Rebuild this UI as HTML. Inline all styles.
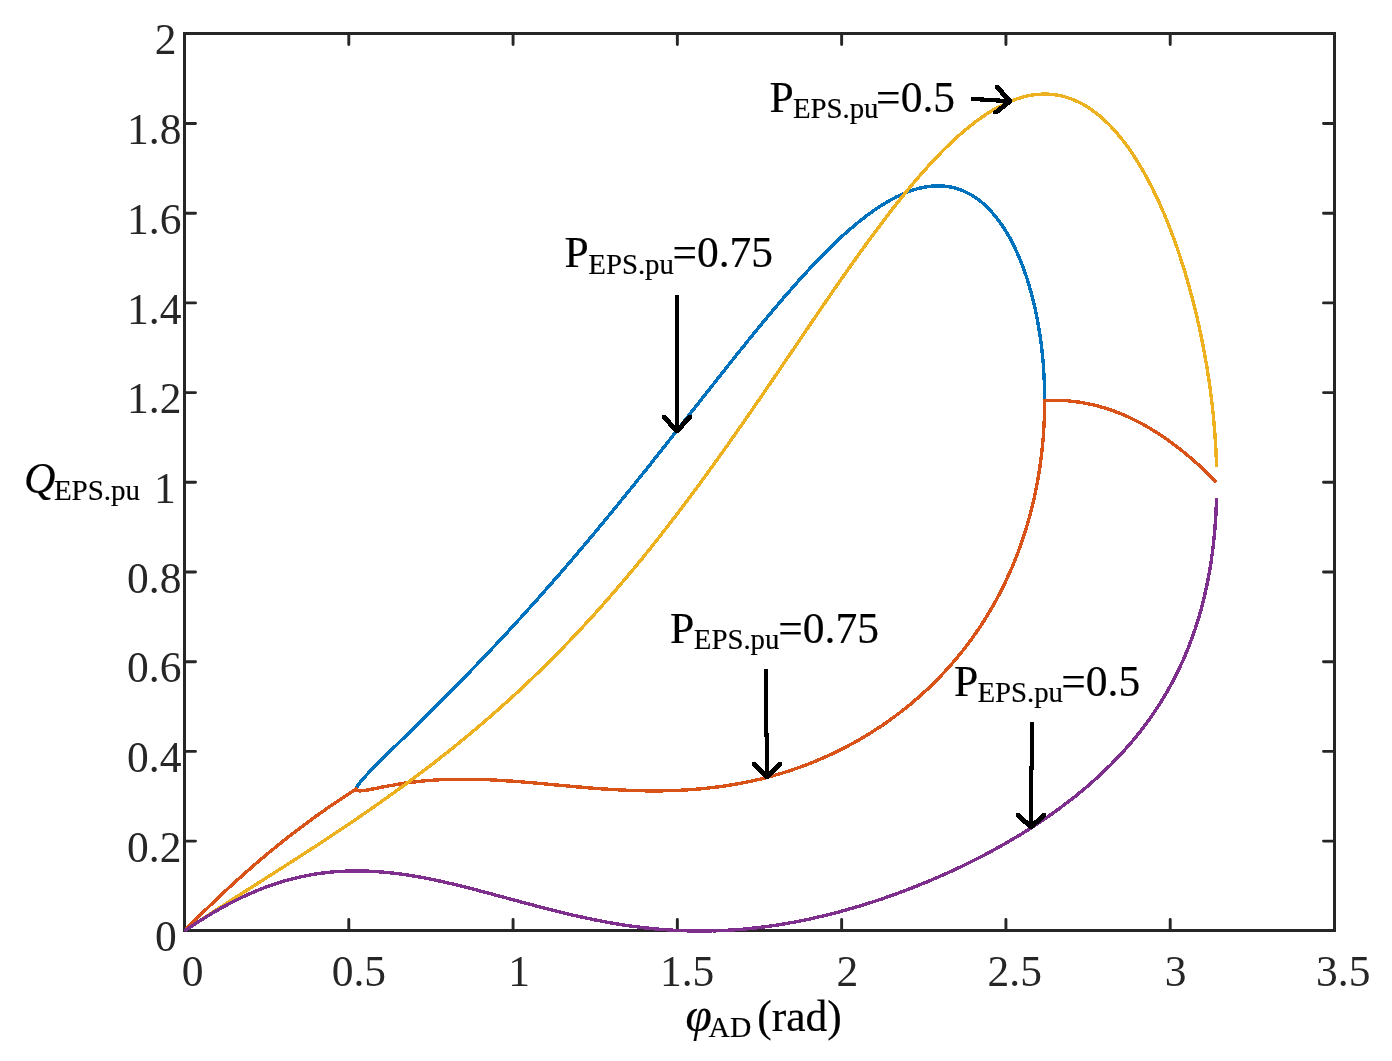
<!DOCTYPE html>
<html lang="en"><head><meta charset="utf-8"><title>Q_EPS.pu versus phi_AD</title>
<style>
html,body{margin:0;padding:0;background:#fff;}
body{width:1392px;height:1061px;overflow:hidden;}
svg{display:block;font-family:"Liberation Serif","Times New Roman",serif;}
.tk{font-size:43.5px;fill:#262626;}
.an{font-size:43.5px;fill:#000;stroke:#000;stroke-width:0.2px;}
.sub{font-size:28.8px;}
.cv{fill:none;stroke-width:3.4;stroke-linejoin:round;stroke-linecap:butt;shape-rendering:crispEdges;}
.ar{fill:#000;stroke:none;shape-rendering:crispEdges;}
</style></head><body>
<svg width="1392" height="1061" viewBox="0 0 1392 1061">
<rect x="0" y="0" width="1392" height="1061" fill="#fff"/>
<rect x="184.5" y="33.5" width="1150.0" height="897.0" fill="none" stroke="#262626" stroke-width="3"/>
<path d="M348.79,930.5v-11.0M348.79,33.5v11.0M513.07,930.5v-11.0M513.07,33.5v11.0M677.36,930.5v-11.0M677.36,33.5v11.0M841.64,930.5v-11.0M841.64,33.5v11.0M1005.93,930.5v-11.0M1005.93,33.5v11.0M1170.21,930.5v-11.0M1170.21,33.5v11.0M184.5,841.10h11.0M1334.5,841.10h-11.0M184.5,751.40h11.0M1334.5,751.40h-11.0M184.5,661.70h11.0M1334.5,661.70h-11.0M184.5,572.00h11.0M1334.5,572.00h-11.0M184.5,482.30h11.0M1334.5,482.30h-11.0M184.5,392.60h11.0M1334.5,392.60h-11.0M184.5,302.90h11.0M1334.5,302.90h-11.0M184.5,213.20h11.0M1334.5,213.20h-11.0M184.5,123.50h11.0M1334.5,123.50h-11.0" fill="none" stroke="#262626" stroke-width="2.9" stroke-linecap="round"/>
<polyline class="cv" stroke="#0072BD" points="356.3,789.0 356.7,788.0 357.0,787.1 357.3,786.4 357.7,785.8 358.0,785.3 358.3,784.7 358.6,784.3 359.0,783.8 359.3,783.4 359.6,782.9 360.6,781.7 363.2,778.6 365.9,775.7 368.5,772.9 371.1,770.1 373.8,767.4 376.4,764.8 379.0,762.2 381.6,759.5 384.3,756.9 386.9,754.4 389.5,751.8 392.2,749.2 394.8,746.6 397.4,744.1 400.0,741.5 402.7,738.9 405.3,736.4 407.9,733.8 410.6,731.2 413.2,728.6 415.8,726.1 418.4,723.5 421.1,720.9 423.7,718.3 426.3,715.7 429.0,713.1 431.6,710.5 434.2,707.9 436.8,705.3 439.5,702.7 442.1,700.0 444.7,697.4 447.4,694.7 450.0,692.1 452.6,689.4 455.2,686.8 457.9,684.1 460.5,681.4 463.1,678.7 465.8,676.0 468.4,673.3 471.0,670.6 473.6,667.9 476.3,665.2 478.9,662.4 481.5,659.7 484.2,656.9 486.8,654.2 489.4,651.4 492.0,648.6 494.7,645.8 497.3,643.1 499.9,640.2 502.6,637.4 505.2,634.6 507.8,631.8 510.4,628.9 513.1,626.1 515.7,623.2 518.3,620.3 521.0,617.5 523.6,614.6 526.2,611.7 528.8,608.7 531.5,605.8 534.1,602.9 536.7,600.0 539.4,597.0 542.0,594.0 544.6,591.1 547.2,588.1 549.9,585.1 552.5,582.1 555.1,579.1 557.8,576.1 560.4,573.1 563.0,570.0 565.6,567.0 568.3,563.9 570.9,560.9 573.5,557.8 576.2,554.7 578.8,551.6 581.4,548.5 584.0,545.4 586.7,542.3 589.3,539.1 591.9,536.0 594.6,532.9 597.2,529.7 599.8,526.5 602.4,523.4 605.1,520.2 607.7,517.0 610.3,513.8 613.0,510.6 615.6,507.4 618.2,504.2 620.8,500.9 623.5,497.7 626.1,494.4 628.7,491.2 631.4,487.9 634.0,484.7 636.6,481.4 639.2,478.1 641.9,474.8 644.5,471.6 647.1,468.3 649.8,465.0 652.4,461.7 655.0,458.3 657.6,455.0 660.3,451.7 662.9,448.4 665.5,445.1 668.2,441.7 670.8,438.4 673.4,435.1 676.0,431.7 678.7,428.4 681.3,425.0 683.9,421.7 686.6,418.3 689.2,415.0 691.8,411.6 694.4,408.3 697.1,404.9 699.7,401.6 702.3,398.2 705.0,394.9 707.6,391.6 710.2,388.2 712.8,384.9 715.5,381.5 718.1,378.2 720.7,374.9 723.4,371.5 726.0,368.2 728.6,364.9 731.2,361.6 733.9,358.3 736.5,355.0 739.1,351.7 741.8,348.5 744.4,345.2 747.0,341.9 749.6,338.7 752.3,335.4 754.9,332.2 757.5,329.0 760.2,325.8 762.8,322.6 765.4,319.4 768.0,316.3 770.7,313.1 773.3,310.0 775.9,306.9 778.6,303.8 781.2,300.7 783.8,297.6 786.4,294.6 789.1,291.6 791.7,288.6 794.3,285.6 797.0,282.6 799.6,279.7 802.2,276.8 804.8,273.9 807.5,271.1 810.1,268.2 812.7,265.4 815.4,262.7 818.0,259.9 820.6,257.2 823.2,254.5 825.9,251.9 828.5,249.3 831.1,246.7 833.8,244.1 836.4,241.6 839.0,239.2 841.6,236.7 844.3,234.3 846.9,232.0 849.5,229.7 852.2,227.4 854.8,225.2 857.4,223.0 860.0,220.9 862.7,218.8 865.3,216.8 867.9,214.8 870.6,212.9 873.2,211.0 875.8,209.2 878.4,207.4 881.1,205.7 883.7,204.0 886.3,202.5 889.0,200.9 891.6,199.5 894.2,198.1 896.8,196.7 899.5,195.5 902.1,194.3 904.7,193.1 907.4,192.1 910.0,191.1 912.6,190.2 915.2,189.4 917.9,188.6 920.5,188.0 923.1,187.4 925.8,186.9 928.4,186.5 931.0,186.2 933.6,186.0 936.3,185.9 938.9,185.8 941.5,185.9 944.2,186.1 946.8,186.4 949.4,186.8 952.0,187.3 954.7,188.0 957.3,188.7 959.9,189.6 962.6,190.6 965.2,191.8 967.8,193.1 970.4,194.5 973.1,196.0 975.7,197.8 978.3,199.7 981.0,201.7 983.6,203.9 986.2,206.4 988.8,209.0 991.5,211.8 994.1,214.8 996.7,218.0 999.4,221.5 1002.0,225.2 1004.6,229.2 1007.2,233.5 1009.9,238.1 1012.5,243.1 1015.1,248.4 1017.8,254.2 1020.4,260.4 1021.7,263.7 1022.0,264.5 1022.4,265.4 1022.7,266.3 1023.0,267.1 1023.3,268.0 1023.7,268.9 1024.0,269.8 1024.3,270.8 1024.7,271.7 1025.0,272.6 1025.3,273.6 1025.6,274.5 1026.0,275.5 1026.3,276.5 1026.6,277.5 1027.0,278.5 1027.3,279.5 1027.6,280.6 1027.9,281.6 1028.3,282.7 1028.6,283.7 1028.9,284.8 1029.3,285.9 1029.6,287.1 1029.9,288.2 1030.2,289.4 1030.6,290.5 1030.9,291.7 1031.2,292.9 1031.6,294.1 1031.9,295.4 1032.2,296.6 1032.5,297.9 1032.9,299.2 1033.2,300.6 1033.5,301.9 1033.9,303.3 1034.2,304.7 1034.5,306.1 1034.8,307.6 1035.2,309.0 1035.5,310.6 1035.8,312.1 1036.2,313.7 1036.5,315.3 1036.8,316.9 1037.1,318.6 1037.5,320.4 1037.8,322.1 1038.1,323.9 1038.5,325.8 1038.8,327.7 1039.1,329.7 1039.4,331.8 1039.8,333.9 1040.1,336.1 1040.4,338.4 1040.8,340.8 1041.1,343.3 1041.4,345.9 1041.7,348.6 1042.1,351.6 1042.4,354.7 1042.7,358.0 1043.1,361.7 1043.4,365.8 1043.7,370.4 1044.0,375.9 1044.4,383.1 1044.7,400.4"/>
<polyline class="cv" stroke="#D95319" points="184.5,931.0 187.1,928.3 189.8,925.6 192.4,923.0 195.0,920.4 197.6,917.7 200.3,915.1 202.9,912.5 205.5,909.9 208.2,907.4 210.8,904.8 213.4,902.3 216.0,899.8 218.7,897.3 221.3,894.8 223.9,892.3 226.6,889.9 229.2,887.4 231.8,885.0 234.4,882.6 237.1,880.2 239.7,877.9 242.3,875.5 245.0,873.2 247.6,870.9 250.2,868.6 252.8,866.3 255.5,864.0 258.1,861.7 260.7,859.5 263.4,857.3 266.0,855.1 268.6,852.9 271.2,850.7 273.9,848.6 276.5,846.4 279.1,844.3 281.8,842.2 284.4,840.1 287.0,838.0 289.6,836.0 292.3,834.0 294.9,831.9 297.5,829.9 300.2,827.9 302.8,826.0 305.4,824.0 308.0,822.1 310.7,820.1 313.3,818.2 315.9,816.3 318.6,814.4 321.2,812.6 323.8,810.7 326.4,808.9 329.1,807.0 331.7,805.2 334.3,803.4 337.0,801.7 339.6,799.9 342.2,798.1 344.8,796.4 347.5,794.7 350.1,793.0 352.7,791.3 355.4,789.6 356.0,789.2 356.3,789.0 356.7,789.5 357.0,790.0 357.3,790.3 357.7,790.5 358.0,790.6 358.3,790.7 358.6,790.7 359.0,790.8 359.3,790.8 359.6,790.8 360.6,790.8 363.2,790.6 365.9,790.3 368.5,789.8 371.1,789.3 373.8,788.8 376.4,788.3 379.0,787.8 381.6,787.2 384.3,786.7 386.9,786.2 389.5,785.7 392.2,785.3 394.8,784.8 397.4,784.4 400.0,783.9 402.7,783.5 405.3,783.1 407.9,782.8 410.6,782.4 413.2,782.1 415.8,781.8 418.4,781.5 421.1,781.2 423.7,780.9 426.3,780.7 429.0,780.5 431.6,780.3 434.2,780.1 436.8,779.9 439.5,779.8 442.1,779.6 444.7,779.5 447.4,779.4 450.0,779.3 452.6,779.3 455.2,779.2 457.9,779.2 460.5,779.2 463.1,779.2 465.8,779.2 468.4,779.2 471.0,779.2 473.6,779.3 476.3,779.3 478.9,779.4 481.5,779.5 484.2,779.6 486.8,779.7 489.4,779.8 492.0,779.9 494.7,780.0 497.3,780.2 499.9,780.3 502.6,780.5 505.2,780.7 507.8,780.9 510.4,781.0 513.1,781.2 515.7,781.4 518.3,781.6 521.0,781.8 523.6,782.0 526.2,782.3 528.8,782.5 531.5,782.7 534.1,782.9 536.7,783.2 539.4,783.4 542.0,783.6 544.6,783.9 547.2,784.1 549.9,784.4 552.5,784.6 555.1,784.9 557.8,785.1 560.4,785.3 563.0,785.6 565.6,785.8 568.3,786.1 570.9,786.3 573.5,786.5 576.2,786.8 578.8,787.0 581.4,787.2 584.0,787.4 586.7,787.7 589.3,787.9 591.9,788.1 594.6,788.3 597.2,788.5 599.8,788.7 602.4,788.9 605.1,789.0 607.7,789.2 610.3,789.4 613.0,789.5 615.6,789.7 618.2,789.8 620.8,790.0 623.5,790.1 626.1,790.2 628.7,790.3 631.4,790.4 634.0,790.5 636.6,790.6 639.2,790.7 641.9,790.7 644.5,790.8 647.1,790.8 649.8,790.8 652.4,790.8 655.0,790.8 657.6,790.8 660.3,790.8 662.9,790.8 665.5,790.7 668.2,790.7 670.8,790.6 673.4,790.5 676.0,790.4 678.7,790.3 681.3,790.2 683.9,790.1 686.6,789.9 689.2,789.7 691.8,789.6 694.4,789.4 697.1,789.1 699.7,788.9 702.3,788.7 705.0,788.4 707.6,788.1 710.2,787.8 712.8,787.5 715.5,787.2 718.1,786.9 720.7,786.5 723.4,786.2 726.0,785.8 728.6,785.4 731.2,784.9 733.9,784.5 736.5,784.0 739.1,783.6 741.8,783.1 744.4,782.6 747.0,782.0 749.6,781.5 752.3,780.9 754.9,780.3 757.5,779.7 760.2,779.1 762.8,778.4 765.4,777.8 768.0,777.1 770.7,776.4 773.3,775.7 775.9,774.9 778.6,774.2 781.2,773.4 783.8,772.6 786.4,771.7 789.1,770.9 791.7,770.0 794.3,769.1 797.0,768.2 799.6,767.3 802.2,766.3 804.8,765.4 807.5,764.4 810.1,763.3 812.7,762.3 815.4,761.2 818.0,760.1 820.6,759.0 823.2,757.9 825.9,756.7 828.5,755.5 831.1,754.3 833.8,753.1 836.4,751.8 839.0,750.5 841.6,749.2 844.3,747.9 846.9,746.5 849.5,745.1 852.2,743.7 854.8,742.3 857.4,740.8 860.0,739.3 862.7,737.7 865.3,736.2 867.9,734.6 870.6,733.0 873.2,731.3 875.8,729.6 878.4,727.9 881.1,726.2 883.7,724.4 886.3,722.6 889.0,720.7 891.6,718.8 894.2,716.9 896.8,714.9 899.5,712.9 902.1,710.9 904.7,708.8 907.4,706.7 910.0,704.6 912.6,702.4 915.2,700.1 917.9,697.9 920.5,695.5 923.1,693.2 925.8,690.7 928.4,688.3 931.0,685.8 933.6,683.2 936.3,680.6 938.9,677.9 941.5,675.1 944.2,672.4 946.8,669.5 949.4,666.6 952.0,663.6 954.7,660.5 957.3,657.4 959.9,654.2 962.6,650.9 965.2,647.6 967.8,644.1 970.4,640.6 973.1,636.9 975.7,633.2 978.3,629.4 981.0,625.4 983.6,621.4 986.2,617.2 988.8,612.9 991.5,608.4 994.1,603.8 996.7,599.1 999.4,594.1 1002.0,589.0 1004.6,583.6 1007.2,578.1 1009.9,572.2 1012.5,566.2 1015.1,559.7 1017.8,553.0 1020.4,545.8 1023.0,538.2 1023.7,536.2 1024.0,535.2 1024.3,534.2 1024.7,533.1 1025.0,532.1 1025.3,531.0 1025.6,530.0 1026.0,528.9 1026.3,527.8 1026.6,526.7 1027.0,525.6 1027.3,524.5 1027.6,523.4 1027.9,522.3 1028.3,521.1 1028.6,519.9 1028.9,518.8 1029.3,517.6 1029.6,516.4 1029.9,515.2 1030.2,513.9 1030.6,512.7 1030.9,511.4 1031.2,510.1 1031.6,508.8 1031.9,507.5 1032.2,506.2 1032.5,504.8 1032.9,503.4 1033.2,502.0 1033.5,500.6 1033.9,499.2 1034.2,497.7 1034.5,496.2 1034.8,494.7 1035.2,493.2 1035.5,491.6 1035.8,490.0 1036.2,488.3 1036.5,486.7 1036.8,485.0 1037.1,483.2 1037.5,481.4 1037.8,479.6 1038.1,477.7 1038.5,475.8 1038.8,473.8 1039.1,471.8 1039.4,469.7 1039.8,467.5 1040.1,465.3 1040.4,462.9 1040.8,460.5 1041.1,458.0 1041.4,455.3 1041.7,452.5 1042.1,449.5 1042.4,446.4 1042.7,443.0 1043.1,439.3 1043.4,435.2 1043.7,430.5 1044.0,425.0 1044.4,417.8 1044.7,400.4 1045.0,400.4 1046.7,400.3 1049.3,400.3 1051.9,400.2 1054.6,400.2 1057.2,400.3 1059.8,400.4 1062.4,400.5 1065.1,400.6 1067.7,400.8 1070.3,401.1 1073.0,401.4 1075.6,401.7 1078.2,402.0 1080.8,402.4 1083.5,402.9 1086.1,403.4 1088.7,403.9 1091.4,404.5 1094.0,405.1 1096.6,405.7 1099.2,406.4 1101.9,407.2 1104.5,407.9 1107.1,408.8 1109.8,409.6 1112.4,410.5 1115.0,411.5 1117.6,412.5 1120.3,413.5 1122.9,414.6 1125.5,415.7 1128.2,416.9 1130.8,418.1 1133.4,419.4 1136.0,420.7 1138.7,422.1 1141.3,423.4 1143.9,424.9 1146.6,426.4 1149.2,427.9 1151.8,429.5 1154.4,431.1 1157.1,432.8 1159.7,434.5 1162.3,436.2 1165.0,438.0 1167.6,439.9 1170.2,441.7 1172.8,443.7 1175.5,445.6 1178.1,447.7 1180.7,449.7 1183.4,451.8 1186.0,454.0 1188.6,456.2 1191.2,458.4 1193.9,460.7 1196.5,463.1 1199.1,465.4 1201.8,467.9 1204.4,470.3 1207.0,472.8 1209.6,475.4 1212.3,478.0 1214.9,480.6 1216.5,482.3"/>
<polyline class="cv" stroke="#EDB120" points="184.5,931.0 187.1,929.2 189.8,927.4 192.4,925.7 195.0,923.9 197.6,922.2 200.3,920.4 202.9,918.7 205.5,917.0 208.2,915.2 210.8,913.5 213.4,911.8 216.0,910.1 218.7,908.4 221.3,906.7 223.9,905.0 226.6,903.3 229.2,901.6 231.8,899.9 234.4,898.2 237.1,896.5 239.7,894.9 242.3,893.2 245.0,891.5 247.6,889.8 250.2,888.2 252.8,886.5 255.5,884.8 258.1,883.1 260.7,881.5 263.4,879.8 266.0,878.1 268.6,876.4 271.2,874.7 273.9,873.1 276.5,871.4 279.1,869.7 281.8,868.0 284.4,866.3 287.0,864.7 289.6,863.0 292.3,861.3 294.9,859.6 297.5,857.9 300.2,856.2 302.8,854.5 305.4,852.8 308.0,851.1 310.7,849.4 313.3,847.7 315.9,846.0 318.6,844.2 321.2,842.5 323.8,840.8 326.4,839.1 329.1,837.3 331.7,835.6 334.3,833.8 337.0,832.1 339.6,830.3 342.2,828.6 344.8,826.8 347.5,825.0 350.1,823.3 352.7,821.5 355.4,819.7 358.0,817.9 360.6,816.1 363.2,814.3 365.9,812.5 368.5,810.6 371.1,808.8 373.8,807.0 376.4,805.1 379.0,803.3 381.6,801.4 384.3,799.6 386.9,797.7 389.5,795.8 392.2,793.9 394.8,792.1 397.4,790.2 400.0,788.2 402.7,786.3 405.3,784.4 407.9,782.5 410.6,780.5 413.2,778.6 415.8,776.6 418.4,774.6 421.1,772.6 423.7,770.7 426.3,768.7 429.0,766.6 431.6,764.6 434.2,762.6 436.8,760.6 439.5,758.5 442.1,756.4 444.7,754.4 447.4,752.3 450.0,750.2 452.6,748.1 455.2,746.0 457.9,743.8 460.5,741.7 463.1,739.5 465.8,737.4 468.4,735.2 471.0,733.0 473.6,730.8 476.3,728.6 478.9,726.4 481.5,724.1 484.2,721.9 486.8,719.6 489.4,717.3 492.0,715.0 494.7,712.7 497.3,710.4 499.9,708.1 502.6,705.7 505.2,703.4 507.8,701.0 510.4,698.6 513.1,696.2 515.7,693.8 518.3,691.4 521.0,688.9 523.6,686.5 526.2,684.0 528.8,681.5 531.5,679.0 534.1,676.5 536.7,673.9 539.4,671.4 542.0,668.8 544.6,666.2 547.2,663.6 549.9,661.0 552.5,658.4 555.1,655.7 557.8,653.1 560.4,650.4 563.0,647.7 565.6,645.0 568.3,642.2 570.9,639.5 573.5,636.7 576.2,633.9 578.8,631.1 581.4,628.3 584.0,625.5 586.7,622.6 589.3,619.8 591.9,616.9 594.6,614.0 597.2,611.1 599.8,608.1 602.4,605.2 605.1,602.2 607.7,599.2 610.3,596.2 613.0,593.2 615.6,590.2 618.2,587.1 620.8,584.0 623.5,580.9 626.1,577.8 628.7,574.7 631.4,571.5 634.0,568.4 636.6,565.2 639.2,562.0 641.9,558.8 644.5,555.5 647.1,552.3 649.8,549.0 652.4,545.7 655.0,542.4 657.6,539.1 660.3,535.8 662.9,532.4 665.5,529.0 668.2,525.7 670.8,522.2 673.4,518.8 676.0,515.4 678.7,511.9 681.3,508.5 683.9,505.0 686.6,501.5 689.2,498.0 691.8,494.4 694.4,490.9 697.1,487.3 699.7,483.8 702.3,480.2 705.0,476.6 707.6,472.9 710.2,469.3 712.8,465.7 715.5,462.0 718.1,458.3 720.7,454.6 723.4,451.0 726.0,447.2 728.6,443.5 731.2,439.8 733.9,436.0 736.5,432.3 739.1,428.5 741.8,424.8 744.4,421.0 747.0,417.2 749.6,413.4 752.3,409.6 754.9,405.8 757.5,401.9 760.2,398.1 762.8,394.3 765.4,390.4 768.0,386.6 770.7,382.7 773.3,378.8 775.9,375.0 778.6,371.1 781.2,367.2 783.8,363.4 786.4,359.5 789.1,355.6 791.7,351.7 794.3,347.9 797.0,344.0 799.6,340.1 802.2,336.2 804.8,332.3 807.5,328.5 810.1,324.6 812.7,320.7 815.4,316.9 818.0,313.0 820.6,309.2 823.2,305.3 825.9,301.5 828.5,297.7 831.1,293.8 833.8,290.0 836.4,286.2 839.0,282.4 841.6,278.7 844.3,274.9 846.9,271.2 849.5,267.4 852.2,263.7 854.8,260.0 857.4,256.3 860.0,252.6 862.7,249.0 865.3,245.3 867.9,241.7 870.6,238.1 873.2,234.5 875.8,231.0 878.4,227.5 881.1,224.0 883.7,220.5 886.3,217.0 889.0,213.6 891.6,210.2 894.2,206.8 896.8,203.5 899.5,200.2 902.1,196.9 904.7,193.6 907.4,190.4 910.0,187.2 912.6,184.1 915.2,181.0 917.9,177.9 920.5,174.9 923.1,171.9 925.8,168.9 928.4,166.0 931.0,163.1 933.6,160.3 936.3,157.5 938.9,154.8 941.5,152.1 944.2,149.4 946.8,146.8 949.4,144.3 952.0,141.8 954.7,139.3 957.3,136.9 959.9,134.6 962.6,132.3 965.2,130.1 967.8,127.9 970.4,125.8 973.1,123.7 975.7,121.7 978.3,119.8 981.0,117.9 983.6,116.1 986.2,114.3 988.8,112.6 991.5,111.0 994.1,109.4 996.7,107.9 999.4,106.5 1002.0,105.2 1004.6,103.9 1007.2,102.7 1009.9,101.6 1012.5,100.5 1015.1,99.5 1017.8,98.6 1020.4,97.8 1023.0,97.1 1025.6,96.4 1028.3,95.8 1030.9,95.3 1033.5,94.9 1036.2,94.6 1038.8,94.3 1041.4,94.2 1044.0,94.1 1046.7,94.1 1049.3,94.2 1051.9,94.4 1054.6,94.7 1057.2,95.1 1059.8,95.6 1062.4,96.2 1065.1,96.9 1067.7,97.7 1070.3,98.6 1073.0,99.6 1075.6,100.7 1078.2,101.9 1080.8,103.2 1083.5,104.6 1086.1,106.2 1088.7,107.8 1091.4,109.6 1094.0,111.5 1096.6,113.5 1099.2,115.6 1101.9,117.9 1104.5,120.2 1107.1,122.7 1109.8,125.3 1112.4,128.1 1115.0,131.0 1117.6,134.0 1120.3,137.2 1122.9,140.5 1125.5,143.9 1128.2,147.5 1130.8,151.3 1133.4,155.2 1136.0,159.2 1138.7,163.5 1141.3,167.9 1143.9,172.4 1146.6,177.2 1149.2,182.1 1151.8,187.2 1154.4,192.5 1157.1,198.0 1159.7,203.8 1162.3,209.7 1165.0,215.9 1167.6,222.3 1170.2,229.0 1172.8,236.0 1175.5,243.2 1178.1,250.8 1180.7,258.7 1183.4,266.9 1186.0,275.6 1188.6,284.7 1191.2,294.3 1191.9,296.7 1192.2,298.0 1192.6,299.3 1192.9,300.5 1193.2,301.8 1193.5,303.1 1193.9,304.4 1194.2,305.7 1194.5,307.0 1194.9,308.4 1195.2,309.7 1195.5,311.1 1195.8,312.4 1196.2,313.8 1196.5,315.2 1196.8,316.6 1197.2,318.0 1197.5,319.4 1197.8,320.9 1198.1,322.3 1198.5,323.8 1198.8,325.2 1199.1,326.7 1199.5,328.2 1199.8,329.8 1200.1,331.3 1200.4,332.8 1200.8,334.4 1201.1,336.0 1201.4,337.6 1201.8,339.2 1202.1,340.8 1202.4,342.5 1202.7,344.1 1203.1,345.8 1203.4,347.5 1203.7,349.3 1204.1,351.0 1204.4,352.8 1204.7,354.6 1205.0,356.4 1205.4,358.2 1205.7,360.1 1206.0,362.0 1206.4,363.9 1206.7,365.9 1207.0,367.9 1207.3,369.9 1207.7,372.0 1208.0,374.1 1208.3,376.2 1208.7,378.4 1209.0,380.6 1209.3,382.8 1209.6,385.1 1210.0,387.5 1210.3,389.9 1210.6,392.4 1211.0,394.9 1211.3,397.5 1211.6,400.2 1211.9,403.0 1212.3,405.8 1212.6,408.8 1212.9,411.9 1213.3,415.1 1213.6,418.4 1213.9,421.9 1214.2,425.7 1214.6,429.6 1214.9,433.9 1215.2,438.5 1215.6,443.7 1215.9,449.6 1216.2,456.8 1216.5,466.9"/>
<polyline class="cv" stroke="#7E2F8E" points="184.5,931.0 187.1,929.2 189.8,927.4 192.4,925.7 195.0,924.0 197.6,922.3 200.3,920.6 202.9,918.9 205.5,917.3 208.2,915.7 210.8,914.1 213.4,912.5 216.0,911.0 218.7,909.5 221.3,908.0 223.9,906.5 226.6,905.1 229.2,903.7 231.8,902.3 234.4,901.0 237.1,899.7 239.7,898.4 242.3,897.1 245.0,895.9 247.6,894.7 250.2,893.5 252.8,892.4 255.5,891.3 258.1,890.2 260.7,889.1 263.4,888.1 266.0,887.1 268.6,886.1 271.2,885.2 273.9,884.3 276.5,883.4 279.1,882.6 281.8,881.8 284.4,881.0 287.0,880.3 289.6,879.6 292.3,878.9 294.9,878.2 297.5,877.6 300.2,877.0 302.8,876.4 305.4,875.9 308.0,875.4 310.7,874.9 313.3,874.4 315.9,874.0 318.6,873.6 321.2,873.2 323.8,872.9 326.4,872.6 329.1,872.3 331.7,872.0 334.3,871.8 337.0,871.6 339.6,871.4 342.2,871.3 344.8,871.2 347.5,871.1 350.1,871.0 352.7,870.9 355.4,870.9 358.0,870.9 360.6,870.9 363.2,871.0 365.9,871.1 368.5,871.2 371.1,871.3 373.8,871.4 376.4,871.6 379.0,871.8 381.6,872.0 384.3,872.2 386.9,872.4 389.5,872.7 392.2,873.0 394.8,873.3 397.4,873.6 400.0,874.0 402.7,874.3 405.3,874.7 407.9,875.1 410.6,875.5 413.2,875.9 415.8,876.4 418.4,876.8 421.1,877.3 423.7,877.8 426.3,878.3 429.0,878.8 431.6,879.3 434.2,879.9 436.8,880.4 439.5,881.0 442.1,881.6 444.7,882.2 447.4,882.8 450.0,883.4 452.6,884.0 455.2,884.6 457.9,885.2 460.5,885.9 463.1,886.5 465.8,887.2 468.4,887.9 471.0,888.5 473.6,889.2 476.3,889.9 478.9,890.6 481.5,891.3 484.2,892.0 486.8,892.7 489.4,893.4 492.0,894.1 494.7,894.8 497.3,895.5 499.9,896.2 502.6,896.9 505.2,897.6 507.8,898.4 510.4,899.1 513.1,899.8 515.7,900.5 518.3,901.2 521.0,901.9 523.6,902.6 526.2,903.3 528.8,904.0 531.5,904.7 534.1,905.4 536.7,906.1 539.4,906.8 542.0,907.5 544.6,908.2 547.2,908.9 549.9,909.5 552.5,910.2 555.1,910.9 557.8,911.5 560.4,912.2 563.0,912.8 565.6,913.4 568.3,914.1 570.9,914.7 573.5,915.3 576.2,915.9 578.8,916.5 581.4,917.0 584.0,917.6 586.7,918.2 589.3,918.7 591.9,919.3 594.6,919.8 597.2,920.3 599.8,920.8 602.4,921.3 605.1,921.8 607.7,922.3 610.3,922.8 613.0,923.2 615.6,923.7 618.2,924.1 620.8,924.5 623.5,925.0 626.1,925.3 628.7,925.7 631.4,926.1 634.0,926.5 636.6,926.8 639.2,927.1 641.9,927.5 644.5,927.8 647.1,928.1 649.8,928.3 652.4,928.6 655.0,928.9 657.6,929.1 660.3,929.3 662.9,929.5 665.5,929.7 668.2,929.9 670.8,930.1 673.4,930.2 676.0,930.4 678.7,930.5 681.3,930.6 683.9,930.7 686.6,930.8 689.2,930.9 691.8,930.9 694.4,931.0 697.1,931.0 699.7,931.0 702.3,931.0 705.0,931.0 707.6,930.9 710.2,930.9 712.8,930.8 715.5,930.8 718.1,930.7 720.7,930.6 723.4,930.5 726.0,930.3 728.6,930.2 731.2,930.0 733.9,929.9 736.5,929.7 739.1,929.5 741.8,929.3 744.4,929.0 747.0,928.8 749.6,928.5 752.3,928.2 754.9,928.0 757.5,927.7 760.2,927.4 762.8,927.0 765.4,926.7 768.0,926.3 770.7,926.0 773.3,925.6 775.9,925.2 778.6,924.8 781.2,924.4 783.8,923.9 786.4,923.5 789.1,923.0 791.7,922.6 794.3,922.1 797.0,921.6 799.6,921.1 802.2,920.5 804.8,920.0 807.5,919.5 810.1,918.9 812.7,918.3 815.4,917.7 818.0,917.1 820.6,916.5 823.2,915.9 825.9,915.3 828.5,914.6 831.1,914.0 833.8,913.3 836.4,912.6 839.0,911.9 841.6,911.2 844.3,910.5 846.9,909.7 849.5,909.0 852.2,908.2 854.8,907.5 857.4,906.7 860.0,905.9 862.7,905.1 865.3,904.3 867.9,903.5 870.6,902.6 873.2,901.8 875.8,900.9 878.4,900.0 881.1,899.2 883.7,898.3 886.3,897.4 889.0,896.4 891.6,895.5 894.2,894.6 896.8,893.6 899.5,892.7 902.1,891.7 904.7,890.7 907.4,889.7 910.0,888.7 912.6,887.7 915.2,886.6 917.9,885.6 920.5,884.5 923.1,883.4 925.8,882.4 928.4,881.3 931.0,880.2 933.6,879.0 936.3,877.9 938.9,876.8 941.5,875.6 944.2,874.4 946.8,873.3 949.4,872.1 952.0,870.9 954.7,869.6 957.3,868.4 959.9,867.2 962.6,865.9 965.2,864.6 967.8,863.4 970.4,862.1 973.1,860.8 975.7,859.4 978.3,858.1 981.0,856.7 983.6,855.4 986.2,854.0 988.8,852.6 991.5,851.2 994.1,849.7 996.7,848.3 999.4,846.8 1002.0,845.4 1004.6,843.9 1007.2,842.4 1009.9,840.8 1012.5,839.3 1015.1,837.7 1017.8,836.2 1020.4,834.6 1023.0,833.0 1025.6,831.3 1028.3,829.7 1030.9,828.0 1033.5,826.3 1036.2,824.6 1038.8,822.9 1041.4,821.1 1044.0,819.3 1046.7,817.5 1049.3,815.7 1051.9,813.9 1054.6,812.0 1057.2,810.1 1059.8,808.2 1062.4,806.2 1065.1,804.2 1067.7,802.2 1070.3,800.2 1073.0,798.2 1075.6,796.1 1078.2,793.9 1080.8,791.8 1083.5,789.6 1086.1,787.4 1088.7,785.1 1091.4,782.8 1094.0,780.5 1096.6,778.1 1099.2,775.7 1101.9,773.3 1104.5,770.8 1107.1,768.2 1109.8,765.7 1112.4,763.0 1115.0,760.3 1117.6,757.6 1120.3,754.8 1122.9,751.9 1125.5,749.0 1128.2,746.0 1130.8,743.0 1133.4,739.9 1136.0,736.7 1138.7,733.4 1141.3,730.1 1143.9,726.6 1146.6,723.1 1149.2,719.5 1151.8,715.8 1154.4,711.9 1157.1,708.0 1159.7,703.9 1162.3,699.7 1165.0,695.3 1167.6,690.8 1170.2,686.1 1172.8,681.3 1175.5,676.2 1178.1,670.9 1180.7,665.3 1183.4,659.5 1186.0,653.4 1188.6,646.9 1191.2,640.0 1193.9,632.7 1194.5,630.7 1194.9,629.8 1195.2,628.8 1195.5,627.8 1195.8,626.8 1196.2,625.8 1196.5,624.7 1196.8,623.7 1197.2,622.7 1197.5,621.6 1197.8,620.6 1198.1,619.5 1198.5,618.4 1198.8,617.3 1199.1,616.2 1199.5,615.0 1199.8,613.9 1200.1,612.8 1200.4,611.6 1200.8,610.4 1201.1,609.2 1201.4,608.0 1201.8,606.8 1202.1,605.5 1202.4,604.3 1202.7,603.0 1203.1,601.7 1203.4,600.4 1203.7,599.0 1204.1,597.7 1204.4,596.3 1204.7,594.9 1205.0,593.5 1205.4,592.0 1205.7,590.6 1206.0,589.1 1206.4,587.6 1206.7,586.0 1207.0,584.4 1207.3,582.8 1207.7,581.2 1208.0,579.5 1208.3,577.8 1208.7,576.0 1209.0,574.2 1209.3,572.4 1209.6,570.5 1210.0,568.6 1210.3,566.6 1210.6,564.5 1211.0,562.4 1211.3,560.2 1211.6,558.0 1211.9,555.6 1212.3,553.2 1212.6,550.7 1212.9,548.0 1213.3,545.3 1213.6,542.4 1213.9,539.3 1214.2,536.0 1214.6,532.5 1214.9,528.6 1215.2,524.4 1215.6,519.7 1215.9,514.2 1216.2,507.4 1216.5,497.8"/>
<text class="tk" x="155" y="951.40">0</text>
<text class="tk" x="127" y="861.70">0.2</text>
<text class="tk" x="127" y="772.00">0.4</text>
<text class="tk" x="127" y="682.30">0.6</text>
<text class="tk" x="127" y="592.60">0.8</text>
<text class="tk" x="154.1" y="502.90">1</text>
<text class="tk" x="127" y="413.20">1.2</text>
<text class="tk" x="127" y="323.50">1.4</text>
<text class="tk" x="127" y="233.80">1.6</text>
<text class="tk" x="127" y="144.10">1.8</text>
<text class="tk" x="154.8" y="54.40">2</text>
<text class="tk" x="181.8" y="986">0</text>
<text class="tk" x="331.7" y="986">0.5</text>
<text class="tk" x="508.2" y="986">1</text>
<text class="tk" x="659.9" y="986">1.5</text>
<text class="tk" x="836.6" y="986">2</text>
<text class="tk" x="987.5" y="986">2.5</text>
<text class="tk" x="1164.7" y="986">3</text>
<text class="tk" x="1316.1" y="986">3.5</text>
<text class="an"><tspan x="24" y="492.6" font-style="italic" font-size="43.5">Q</tspan><tspan x="53.9" y="499.8" font-size="29">EPS.pu</tspan></text>
<text class="an"><tspan x="685.5" y="1031.4" font-style="italic" font-size="47.5">φ</tspan><tspan x="708.6" y="1037.1" font-size="29.5">AD</tspan><tspan x="757.2" y="1031.4" font-size="43.5">(rad)</tspan></text>
<text class="an"><tspan x="769.5" y="111.7">P</tspan><tspan class="sub" x="792.9" y="117.8">EPS.pu</tspan><tspan x="876.1" y="111.7">=0.5</tspan></text>
<path class="ar" d="M971,96.9L975,96.9L1011.8,99.3L1011.8,103.3L1007.8,103.3L971,100.9ZM995.1,85.4L999.1,85.4L1011.8,99.8L1011.8,102.8L1007.8,102.8L995.1,88.4ZM993.3,111.3L1007.8,99.8L1011.8,99.8L1011.8,102.8L997.3,114.3L993.3,114.3Z"/>
<text class="an"><tspan x="564.5" y="267.3">P</tspan><tspan class="sub" x="588.3" y="273.6">EPS.pu</tspan><tspan x="672.4" y="267.3">=0.75</tspan></text>
<path class="ar" d="M674.95,294.8L678.95,294.8L678.95,433.1L674.95,433.1ZM662.3,414.8L665.3,414.8L678.45,429.1L678.45,433.1L675.45,433.1L662.3,418.8ZM675.45,429.1L688.5,414.8L691.5,414.8L691.5,418.8L678.45,433.1L675.45,433.1Z"/>
<text class="an"><tspan x="670.1" y="643.4">P</tspan><tspan class="sub" x="693.8" y="649.0">EPS.pu</tspan><tspan x="778.3" y="643.4">=0.75</tspan></text>
<path class="ar" d="M763.7,669.1L767.7,669.1L769.05,774.9L769.05,778.9L765.05,778.9L763.7,673.1ZM752.4,761.9L755.4,761.9L768.55,774.9L768.55,778.9L765.55,778.9L752.4,765.9ZM765.55,774.9L778.6,761.9L781.6,761.9L781.6,765.9L768.55,778.9L765.55,778.9Z"/>
<text class="an"><tspan x="953.9" y="696.4">P</tspan><tspan class="sub" x="977.4" y="701.7">EPS.pu</tspan><tspan x="1061.3" y="696.4">=0.5</tspan></text>
<path class="ar" d="M1029,825.15L1029.9,722.1L1033.9,722.1L1033.9,726.1L1033,829.15L1029,829.15ZM1016.4,812.9L1019.4,812.9L1032.5,825.15L1032.5,829.15L1029.5,829.15L1016.4,816.9ZM1029.5,825.15L1042.6,812.9L1045.6,812.9L1045.6,816.9L1032.5,829.15L1029.5,829.15Z"/>
</svg>
</body></html>
